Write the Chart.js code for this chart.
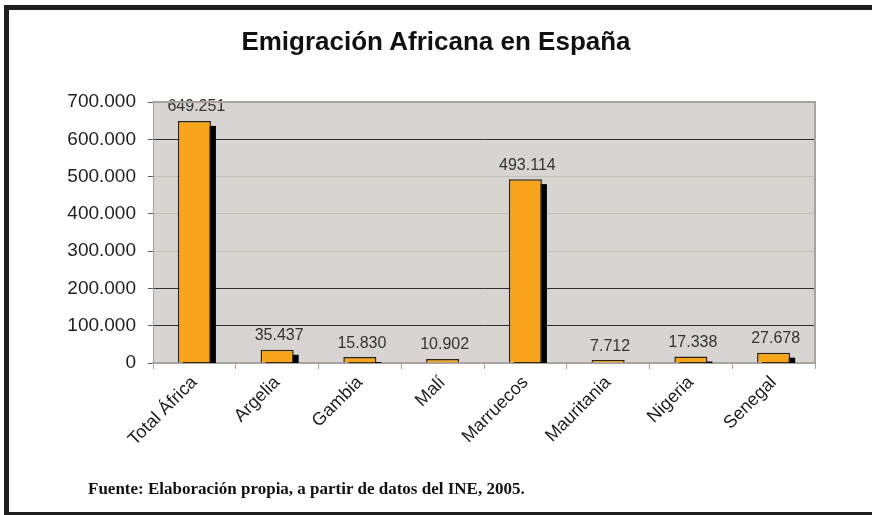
<!DOCTYPE html>
<html>
<head>
<meta charset="utf-8">
<script src="https://cdn.jsdelivr.net/npm/chart.js@4.4.1/dist/chart.umd.min.js"></script>
<style>
  html, body { margin: 0; padding: 0; background: #fff; overflow: hidden; }
  body { width: 872px; height: 515px; position: relative; }
  #frame {
    position: absolute; left: 4px; top: 5px; width: 900px; height: 512px;
    box-sizing: border-box; border: 5px solid #1e1e1e;
  }
  #title {
    position: absolute; left: 0; width: 872px; top: 26px; text-align: center;
    font: bold 26px "Liberation Sans", Arial, sans-serif; color: #111;
  }
  #source {
    position: absolute; left: 88px; top: 479px;
    font: bold 17px "Liberation Serif", "Times New Roman", serif; color: #111;
  }
  canvas { position: absolute; left: 0; top: 0; }
</style>
</head>
<body>
<div id="frame"></div>
<canvas id="chart" width="872" height="515"></canvas>
<div id="title">Emigración Africana en España</div>
<div id="source">Fuente: Elaboración propia, a partir de datos del INE, 2005.</div>
<script>
// ===== Data =====
const countries = ['Total África', 'Argelia', 'Gambia', 'Malí', 'Marruecos', 'Mauritania', 'Nigeria', 'Senegal'];
const emigrants = [649251, 35437, 15830, 10902, 493114, 7712, 17338, 27678];
const yTicks = [0, 100000, 200000, 300000, 400000, 500000, 600000, 700000];
const darkGridValues = [100000, 200000, 600000]; // the reference has these lines drawn darker

// Spanish style thousands: 700.000
function fmt(n) {
  return String(n).replace(/\B(?=(\d{3})+(?!\d))/g, '.');
}

// ===== Plot background + border =====
const plotBackground = {
  id: 'plotBackground',
  beforeDraw(chart) {
    const { ctx, chartArea: a } = chart;
    ctx.save();
    ctx.fillStyle = '#d8d4d1';
    ctx.fillRect(a.left, a.top, a.right - a.left, a.bottom - a.top);
    ctx.restore();
  },
  afterDraw(chart) {
    const { ctx, chartArea: a } = chart;
    ctx.save();
    ctx.strokeStyle = '#a7a3a0';
    ctx.lineWidth = 2;
    ctx.beginPath();
    ctx.moveTo(a.left, a.top);
    ctx.lineTo(a.right, a.top);
    ctx.lineTo(a.right, a.bottom);
    ctx.stroke();
    ctx.restore();
  }
};

// ===== Black drop shadow behind bars (offset box, clipped to plot) =====
const barShadow = {
  id: 'barShadow',
  beforeDatasetsDraw(chart) {
    const { ctx, chartArea: a } = chart;
    const meta = chart.getDatasetMeta(0);
    ctx.save();
    ctx.beginPath();
    ctx.rect(a.left, a.top, a.right - a.left, a.bottom - a.top);
    ctx.clip();
    ctx.fillStyle = '#000';
    meta.data.forEach(bar => {
      const { x, y, base, width } = bar.getProps(['x', 'y', 'base', 'width'], true);
      ctx.fillRect(x - width / 2 + 5, y + 5, width, base - y);
    });
    ctx.restore();
  }
};

// ===== Value labels above bars =====
const valueLabels = {
  id: 'valueLabels',
  afterDatasetsDraw(chart) {
    const { ctx } = chart;
    const meta = chart.getDatasetMeta(0);
    ctx.save();
    ctx.font = '16px "Liberation Sans", Arial, sans-serif';
    ctx.fillStyle = '#333';
    ctx.textAlign = 'center';
    ctx.textBaseline = 'bottom';
    meta.data.forEach((bar, i) => {
      ctx.fillText(fmt(emigrants[i]), bar.x + 2, bar.y - 6);
    });
    ctx.restore();
  }
};

document.addEventListener('DOMContentLoaded', () => {
  const ctx = document.getElementById('chart').getContext('2d');
  new Chart(ctx, {
    type: 'bar',
    data: {
      labels: countries,
      datasets: [{
        data: emigrants,
        backgroundColor: '#f8a51c',
        borderColor: '#2b2112',
        borderWidth: 1.5,
        barPercentage: 0.4,
        categoryPercentage: 1.0
      }]
    },
    options: {
      responsive: false,
      animation: false,
      layout: { padding: { left: 0, top: 102, right: 57, bottom: 0 } },
      plugins: {
        legend: { display: false },
        tooltip: { enabled: false }
      },
      scales: {
        y: {
          min: 0,
          max: 700000,
          afterBuildTicks: scale => { scale.ticks = yTicks.map(v => ({ value: v })); },
          afterFit: scale => { scale.width = 153; },
          border: { color: '#a7a3a0', width: 1 },
          grid: {
            color: c => darkGridValues.includes(c.tick.value) ? '#2e2e2e' : '#c2beba',
            tickColor: '#555',
            tickLength: 5,
            lineWidth: 1
          },
          ticks: {
            padding: 12,
            color: '#1e1e1e',
            font: { family: '"Liberation Sans", Arial, sans-serif', size: 19 },
            callback: v => fmt(v)
          }
        },
        x: {
          afterFit: scale => { scale.height = 152; },
          border: { color: '#a7a3a0', width: 2 },
          grid: {
            offset: true,
            drawOnChartArea: false,
            tickColor: '#a7a3a0',
            tickLength: 6
          },
          ticks: {
            minRotation: 45,
            maxRotation: 45,
            padding: 3,
            color: '#1e1e1e',
            font: { family: '"Liberation Sans", Arial, sans-serif', size: 18 }
          }
        }
      }
    },
    plugins: [plotBackground, barShadow, valueLabels]
  });
});
</script>
</body>
</html>
